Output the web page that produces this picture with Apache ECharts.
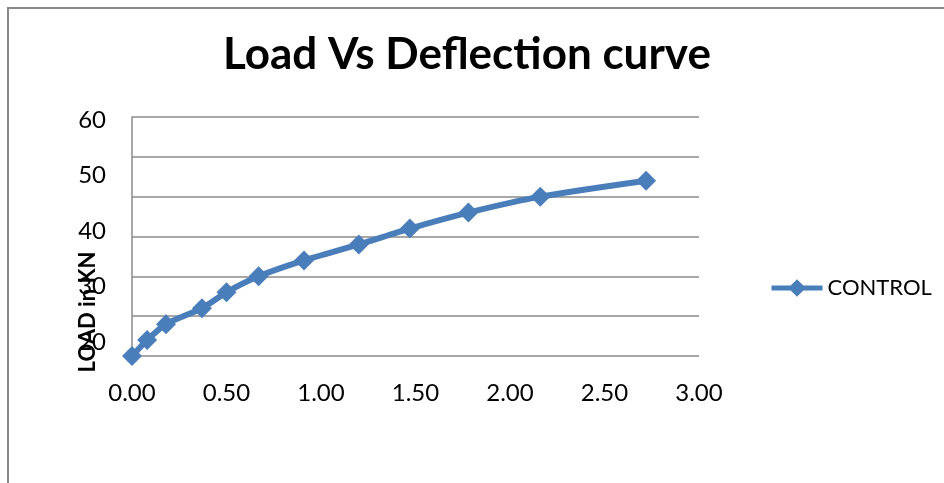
<!DOCTYPE html>
<html>
<head>
<meta charset="utf-8">
<script src="https://cdn.jsdelivr.net/npm/echarts@6/dist/echarts.min.js"></script>
<style>
html,body{margin:0;padding:0;background:#fff;}
#chart{width:944px;height:483px;}
</style>
</head>
<body>
<div id="chart"></div>
<script>
var titleText = 'Load Vs Deflection curve';
var seriesName = 'CONTROL';
var yAxisTitle = 'LOAD in KN';
var deflection = [0.00, 0.08, 0.18, 0.37, 0.50, 0.67, 0.91, 1.20, 1.47, 1.78, 2.16, 2.72];
var load = [0, 4, 8, 12, 16, 20, 24, 28, 32, 36, 40, 44];
var yTickLabels = ['20', '30', '40', '50', '60'];

var font = 'Lato, "Open Sans", sans-serif';
var blue = '#4a7ebb';
var gray = '#8a8a8a';

var points = deflection.map(function (d, i) { return [d, load[i]]; });

var chart = echarts.init(document.getElementById('chart'));
chart.setOption({
  backgroundColor: '#fff',
  animation: false,
  title: {
    text: titleText,
    left: 218,
    top: 28,
    textStyle: { fontFamily: font, fontWeight: 'bold', fontSize: 44, color: '#000' }
  },
  legend: {
    data: [seriesName],
    left: 764,
    top: 272,
    itemWidth: 51,
    itemHeight: 22,
    itemGap: 6,
    lineStyle: { width: 5, color: blue },
    textStyle: { fontFamily: font, fontSize: 22, color: '#000' }
  },
  grid: [
    { left: 132, top: 117, width: 567, height: 239 },
    { left: 132, top: 120, width: 567, height: 222 }
  ],
  xAxis: [
    {
      type: 'value', gridIndex: 0, min: 0, max: 3, interval: 0.5,
      axisLine: { show: false },
      axisTick: { show: false },
      splitLine: { show: false },
      axisLabel: {
        margin: 25, fontFamily: font, fontSize: 24, color: '#000',
        formatter: function (v) { return v.toFixed(2); }
      }
    },
    { type: 'value', gridIndex: 1, show: false, min: 0, max: 1 }
  ],
  yAxis: [
    {
      type: 'value', gridIndex: 0, min: 0, max: 60, interval: 10,
      axisLine: { show: true, lineStyle: { color: gray, width: 1.5 } },
      axisTick: { show: false },
      axisLabel: { show: false },
      splitLine: { show: true, lineStyle: { color: gray, width: 1.5 } }
    },
    {
      type: 'category', gridIndex: 1, data: yTickLabels, boundaryGap: false,
      axisLine: { show: false },
      axisTick: { show: false },
      splitLine: { show: false },
      axisLabel: { margin: 26, fontFamily: font, fontSize: 24, color: '#000' }
    }
  ],
  series: [
    {
      name: seriesName,
      type: 'line',
      xAxisIndex: 0,
      yAxisIndex: 0,
      data: points,
      smooth: 0.25,
      symbol: 'diamond',
      symbolSize: 20,
      lineStyle: { color: blue, width: 6 },
      itemStyle: { color: blue },
      z: 3
    }
  ],
  graphic: [
    {
      type: 'rect',
      shape: { x: 8, y: 8, width: 1200, height: 1200 },
      style: { fill: 'none', stroke: '#888', lineWidth: 2 },
      silent: true
    },
    {
      type: 'text',
      x: 88,
      y: 312,
      rotation: Math.PI / 2,
      style: {
        text: yAxisTitle,
        fontFamily: font,
        fontWeight: 'bold',
        fontSize: 22,
        fill: '#000',
        align: 'center',
        verticalAlign: 'middle'
      },
      z: 100
    }
  ]
});
</script>
</body>
</html>
